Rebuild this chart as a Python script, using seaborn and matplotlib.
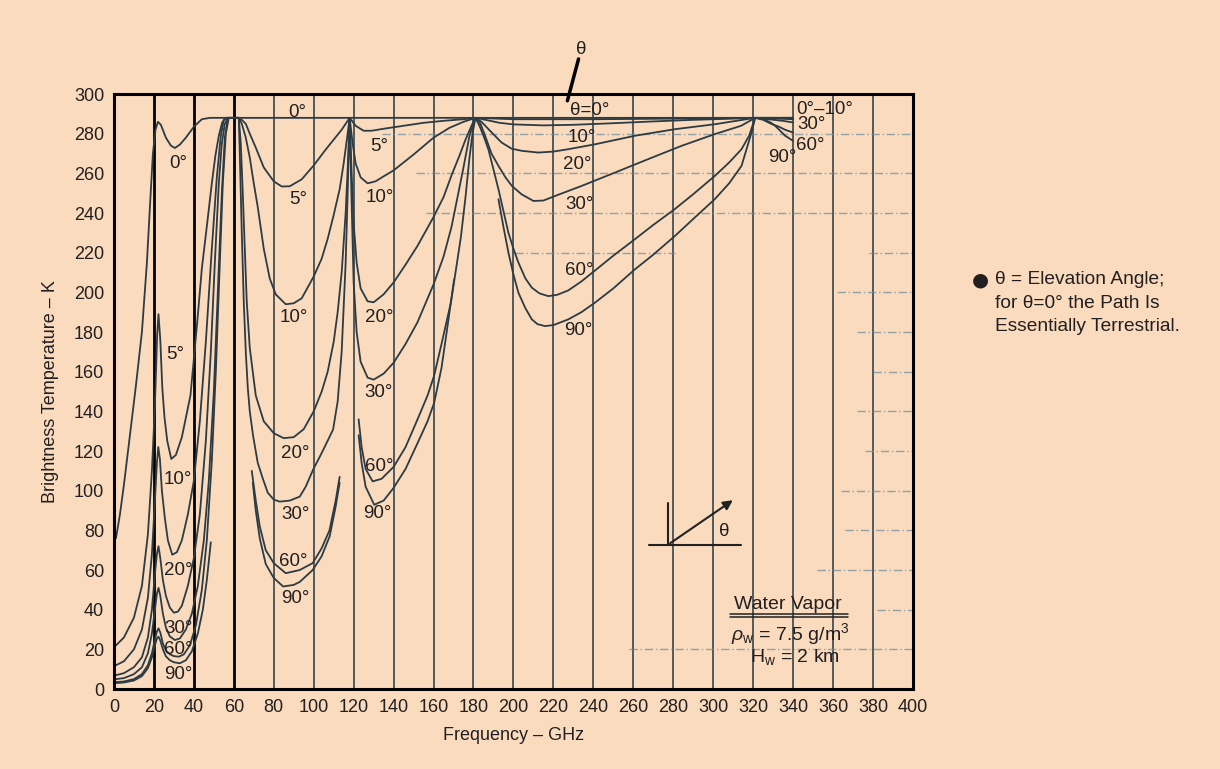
import matplotlib
matplotlib.use("Agg")
import matplotlib.pyplot as plt
import seaborn as sns
import pandas as pd

# ------------------------------------------------------------------
# Data: (frequency GHz, brightness temperature K)
# ------------------------------------------------------------------
theta_0 = [(1, 76), (3, 88), (5, 103), (8, 128), (11, 153), (14, 180), (16.5, 215), (18, 243),
           (19.5, 270), (20.8, 282), (22, 286), (23.5, 284.5), (26, 278), (28.5, 274), (30.5, 272.8),
           (33, 274.5), (36, 278), (40, 283.5), (44, 287.3), (48, 288), (340, 288)]

theta_5 = [(1, 22), (5, 26), (10, 36), (14, 52), (17, 78), (19, 110), (20, 132), (20.8, 152), (21.6, 178),
           (22.3, 189), (23.2, 176), (24.2, 152), (25.3, 137), (26.7, 125), (28.7, 116), (31, 118), (34, 127),
           (38.3, 148), (41.7, 185), (44, 212), (46.7, 235), (49, 255), (50.8, 269), (52.5, 279), (54.2, 285.7),
           (56, 288), (62, 288), (64, 287), (66, 285), (68, 280), (71, 273), (75, 263), (80, 256), (84, 253.4),
           (88, 253.5), (94, 257), (100, 264), (106, 272), (110, 277), (114, 282), (116, 285), (118, 288),
           (121, 284), (125, 281.5), (129, 281.5), (135, 282.5), (145, 284), (155, 285.5), (165, 286.5),
           (175, 287.3), (181, 288), (200, 287.3), (240, 287.3), (280, 287.6), (321, 288), (340, 288)]

theta_10 = [(1, 12), (5, 14), (10, 20), (14, 30), (17, 46), (19, 68), (20.5, 95), (21.5, 114), (22.2, 122),
            (23, 116), (24, 100), (25.5, 86), (27, 75), (29.2, 67.7), (31.5, 69), (34, 75), (37, 88), (40, 105),
            (43, 135), (46, 175), (49, 222), (51.5, 258), (53.5, 279), (55, 287), (56.5, 288), (62.5, 288),
            (64, 285), (66, 278), (68, 268), (70, 255), (72, 243), (75, 222), (78, 207), (81, 199), (86, 194),
            (90, 194.5), (94, 197), (100, 208), (104, 217), (107, 227), (110, 239), (113, 252), (115, 265),
            (117, 280), (118, 288), (119.5, 275), (121, 265), (123.5, 258), (127, 255), (131, 256),
            (135, 258.5), (140, 261.5), (150, 269.5), (160, 278), (168, 283), (175, 286), (181, 288),
            (186, 287), (193, 285.5), (200, 284.7), (215, 284.2), (230, 284.5), (250, 285.3), (270, 286.2),
            (290, 287), (310, 287.6), (321, 288), (340, 288)]

theta_20 = [(1, 7), (5, 8), (10, 11), (14, 16), (17, 26), (19, 40), (20.5, 58), (21.5, 68), (22.3, 72),
            (23.2, 66), (24.5, 55), (26, 47), (28, 41), (30, 38.5), (32, 39), (34, 42), (37, 52), (40, 66),
            (43, 88), (46, 125), (48.5, 170), (50.5, 215), (52.5, 255), (54, 275), (55.5, 285), (57, 288),
            (62.5, 288), (63.5, 275), (64.5, 250), (65.5, 222), (66.5, 195), (68, 172), (71, 148), (75, 135),
            (80, 129), (85, 126.5), (90, 127), (95, 131), (100, 140), (104, 150), (107, 160), (110, 175),
            (112, 190), (114, 210), (116, 240), (117, 262), (118, 288), (119, 260), (120, 235), (121.5, 215),
            (123.5, 202), (127, 195.5), (130, 195), (135, 199), (140, 205), (146, 214), (152, 223.5),
            (160, 238), (165, 248), (169, 259), (173, 269), (176, 277), (179, 284), (181, 288), (184, 286),
            (187.5, 282.3), (194, 275.6), (199, 272.5), (204, 271.4), (212.5, 270.5), (220, 271),
            (227.5, 272.2), (241, 274.7), (261, 279), (281, 282.3), (301, 284.8), (321, 288), (330, 287.7),
            (340, 287.3)]

theta_30 = [(1, 5), (5, 5.5), (10, 7.5), (14, 11), (17, 18), (19, 28), (20.5, 40), (21.5, 48), (22.3, 51),
            (23.2, 47), (24.5, 38), (26, 31), (28, 26.5), (30.5, 24.7), (33, 25.5), (36, 30), (39, 38),
            (42, 52), (45, 75), (47.5, 105), (50, 150), (52, 200), (54, 250), (55.5, 278), (57, 288),
            (62.5, 288), (63, 270), (64, 230), (65, 195), (66, 170), (67, 152), (68, 140), (69.7, 127.4),
            (72, 114), (74.7, 105.6), (77, 99), (80, 95.5), (83, 94.5), (88, 95), (93, 97), (96, 102),
            (99.7, 110.6), (104, 119), (109.7, 130.8), (112, 145), (114, 170), (116, 215), (117, 250),
            (118, 288), (119, 245), (120, 205), (121.5, 180), (123.5, 165), (127, 157), (130, 156), (135, 159),
            (140, 164.5), (146, 174), (152, 185), (160, 204), (165, 218), (169, 233), (172, 248), (175, 263),
            (178, 279), (181, 288), (183.5, 285), (185.8, 279), (189, 270), (192.5, 263.8), (196, 258),
            (199.2, 253.7), (204, 249.5), (210, 246.1), (215, 246.3), (220.8, 248.6), (234.2, 253.7),
            (250.8, 260.4), (267.5, 267.2), (284.2, 273.9), (300.8, 279.8), (314, 284), (321, 288),
            (326, 287.5), (334.7, 286.5), (340, 285.7)]

theta_60_a = [(1, 3.5), (5, 3.8), (10, 5), (14, 7.5), (17, 12), (19, 18), (20.5, 25), (21.5, 29), (22.3, 30.6),
              (23.2, 28.5), (24.5, 23), (26, 19.5), (28, 17.5), (30, 16.6), (32.5, 16.3), (35, 17.5), (38, 22),
              (41, 32), (44, 50), (46.5, 75), (49, 115), (51, 160), (53, 215), (54.5, 255), (56, 280),
              (57.5, 288), (62.5, 288)]
theta_60_b = [(69, 110), (71, 95), (73, 82), (76, 70), (80, 63.5), (86, 58.4), (93, 60), (99.5, 63.5),
              (104, 71), (107.9, 80), (111, 95), (113, 107)]
theta_60_c = [(122.5, 136), (124, 122), (126, 111), (129.5, 104.7), (134, 106), (140, 112), (146, 122),
              (152, 136), (157, 148), (160.3, 158), (164, 174), (168.7, 195), (171, 210), (173.7, 228),
              (176, 248), (178, 268), (179.5, 280), (181, 288), (183, 284), (185, 279), (187.5, 272),
              (190, 262), (192.5, 252), (195, 241), (197.5, 230), (200, 222), (202.5, 215), (206, 207),
              (209.2, 202.4), (213, 199.5), (217.5, 198.1), (222, 198.8), (227.5, 201), (234, 205.5),
              (240.8, 211), (250, 218.5), (260.8, 226.8), (270, 234), (280.8, 242), (290, 249.5),
              (300.8, 258.7), (308, 265.5), (314.2, 272.2), (318, 279), (321, 288), (325, 287), (329, 285),
              (333, 283.5), (336, 282), (340, 280.6)]

theta_90_a = [(1, 3), (5, 3.3), (10, 4.3), (14, 6.5), (17, 10.5), (19, 16), (20.5, 22), (21.5, 25.5),
              (22.3, 26.4), (23.2, 24.5), (24.5, 20), (26, 16.5), (28, 14.5), (30, 13.5), (33, 13), (36, 14.5),
              (39, 19), (42, 28), (44.5, 40), (46.5, 55), (48.5, 74)]
theta_90_b = [(69.5, 104), (71, 90), (73, 76), (76, 63), (80, 56), (84.7, 51.7), (90, 52.5), (93, 54),
              (99.5, 60), (104, 67), (108, 77), (111, 92), (113, 104)]
theta_90_c = [(122.5, 128), (124, 114), (126, 102), (130.3, 92.9), (135, 95), (140, 101.4), (146, 111),
              (152, 124), (157, 135), (160.3, 144.3), (164, 162), (167, 183), (170.3, 206.6)]
theta_90_d = [(192.5, 247), (195, 233), (197.5, 220), (200, 209), (202.5, 199.8), (206, 192), (209.2, 186.4),
              (212, 184), (215.8, 183), (220, 183.5), (227.5, 186.4), (234, 190), (240.8, 194.8), (250, 202),
              (260.8, 211.6), (270, 219), (280.8, 228.4), (290, 237), (300.8, 247), (308, 255),
              (314.2, 263.8), (319.2, 280.6), (321, 288), (325, 287.5), (329, 285.5), (331, 284), (336, 279),
              (340, 276.4)]

curves = {
    "0°": [theta_0],
    "5°": [theta_5],
    "10°": [theta_10],
    "20°": [theta_20],
    "30°": [theta_30],
    "60°": [theta_60_a, theta_60_b, theta_60_c],
    "90°": [theta_90_a, theta_90_b, theta_90_c, theta_90_d],
}

x_ticks = list(range(0, 401, 20))
y_ticks = list(range(0, 301, 20))
grid_freqs = list(range(20, 400, 20))
heavy_grid_freqs = [20, 40, 60]

# faint partial horizontal reference lines of the original scan: (level K, from GHz, to GHz)
scan_lines = [(280, 134, 400), (260, 151, 400), (240, 156, 400), (220, 201, 281), (220, 378, 400),
              (200, 362, 400), (180, 372, 400), (160, 380, 400), (140, 372, 400), (120, 376, 400),
              (100, 364, 400), (80, 366, 400), (60, 352, 400), (40, 382, 400), (20, 258, 400)]

# curve labels: (text, GHz, K)
curve_labels = [
    ("0°", 32.0, 265), ("5°", 30.7, 168.7), ("10°", 32.0, 105.6), ("20°", 32.4, 59.8),
    ("30°", 32.2, 30.6), ("60°", 32.1, 19.7), ("90°", 32.0, 7.1),
    ("0°", 91.6, 290.7), ("5°", 92.0, 246.6), ("10°", 90.0, 187.2), ("20°", 91.0, 119.0),
    ("30°", 90.9, 88.0), ("60°", 90.0, 64.3), ("90°", 90.7, 45.8),
    ("5°", 133.0, 273.6), ("10°", 133.0, 247.8), ("20°", 132.6, 187.2), ("30°", 132.3, 149.3),
    ("60°", 132.8, 112.3), ("90°", 131.8, 88.7),
    ("θ=0°", 238.3, 291.6), ("10°", 234.0, 278.0), ("20°", 231.9, 264.6), ("30°", 233.0, 244.4),
    ("60°", 232.7, 210.8), ("90°", 232.5, 181.0), ("90°", 334.5, 268.0),
]
right_labels = [("0°–10°", 341.5, 292.4), ("30°", 342.0, 284.8), ("60°", 341.5, 273.9)]

# ------------------------------------------------------------------
rows = []
uid = 0
for ang, segs in curves.items():
    for seg in segs:
        for f, t in seg:
            rows.append((ang, uid, f, t))
        uid += 1
df = pd.DataFrame(rows, columns=["angle", "unit", "freq", "temp"])

sns.set_theme(style="white")
plt.rcParams["font.family"] = ["Liberation Sans", "DejaVu Sans"]
plt.rcParams["mathtext.fontset"] = "custom"
plt.rcParams["mathtext.rm"] = "Liberation Sans"
plt.rcParams["mathtext.it"] = "Liberation Sans:italic"

BG = "#FADBBD"
CURVE = "#2C3B44"
GRID = "#34444D"
TXT = "#231F20"

fig = plt.figure(figsize=(12.2, 7.69), dpi=100, facecolor=BG)
ax = fig.add_axes([0.0934, 0.1040, 0.6549, 0.7737])
ax.set_facecolor(BG)

for f in grid_freqs:
    if f in heavy_grid_freqs:
        ax.axvline(f, color="black", lw=2.0, zorder=1)
    else:
        ax.axvline(f, color=GRID, lw=1.2, zorder=1)

for lvl, f1, f2 in scan_lines:
    ax.plot([f1, f2], [lvl, lvl], color="#6A8A9B", lw=1.0, ls=(0, (6, 2, 1, 2)), alpha=0.7, zorder=1)

sns.lineplot(data=df, x="freq", y="temp", units="unit", estimator=None, sort=False,
             color=CURVE, lw=1.3, ax=ax, legend=False, zorder=3)

ax.set_xlim(0, 400)
ax.set_ylim(0, 300)
ax.set_xticks(x_ticks)
ax.set_yticks(y_ticks)
ax.tick_params(length=0, pad=7, labelsize=13, labelcolor=TXT)
ax.set_xlabel("Frequency – GHz", fontsize=13, color=TXT, labelpad=8)
ax.set_ylabel("Brightness Temperature – K", fontsize=13, color=TXT, labelpad=11)
for s in ax.spines.values():
    s.set_visible(True)
    s.set_color("black")
    s.set_linewidth(2.2)
    s.set_zorder(5)

for txt, fx, ty in curve_labels:
    ax.text(fx, ty, txt, fontsize=13.5, color=TXT, ha="center", va="center", zorder=4)
for txt, fx, ty in right_labels:
    ax.text(fx, ty, txt, fontsize=13.5, color=TXT, ha="left", va="center", zorder=4, clip_on=False)

# theta marker above plot
ax.plot([227, 232.6], [296.6, 317.7], color="black", lw=2.5, clip_on=False, zorder=6)
ax.text(233.8, 322.7, "θ", fontsize=13.5, color=TXT, ha="center", va="center", clip_on=False)

# elevation-angle inset sketch
ax.plot([277.3, 277.3], [72.7, 93.8], color="#222222", lw=1.5, zorder=4)
ax.plot([268, 314], [72.7, 72.7], color="#222222", lw=1.5, zorder=4)
ax.annotate("", xy=(311, 96), xytext=(277.3, 72.7),
            arrowprops=dict(arrowstyle="-|>", color="#222222", lw=1.5, mutation_scale=14), zorder=4)
ax.text(305.4, 79.4, "θ", fontsize=13.5, color=TXT, ha="center", va="center", zorder=4)

# water vapor box text
ax.text(337.4, 42.4, "Water Vapor", fontsize=14, color=TXT, ha="center", va="center", zorder=4)
ax.plot([308.2, 367.4], [37.7, 37.7], color="#222222", lw=1.1, zorder=4)
ax.plot([308.2, 367.4], [36.4, 36.4], color="#222222", lw=1.1, zorder=4)
ax.text(338.4, 27.8, r"$\it{\rho}_\mathrm{w}$ = 7.5 g/m$^3$", fontsize=14, color=TXT,
        ha="center", va="center", zorder=4)
ax.text(341.0, 16.2, r"H$_\mathrm{w}$ = 2 km", fontsize=14, color=TXT, ha="center", va="center", zorder=4)

# side note
fig.text(980 / 1220, 1 - 280 / 769, "●", fontsize=14, color=TXT, ha="center", va="center",
         family=["DejaVu Sans"])
note_lines = ["θ = Elevation Angle;", "for θ=0° the Path Is", "Essentially Terrestrial."]
for i, line in enumerate(note_lines):
    fig.text(995 / 1220, 1 - (280 + 23.3 * i) / 769, line, fontsize=13.8, color=TXT,
             ha="left", va="center")

fig.savefig("out.png", dpi=100, facecolor=BG)
